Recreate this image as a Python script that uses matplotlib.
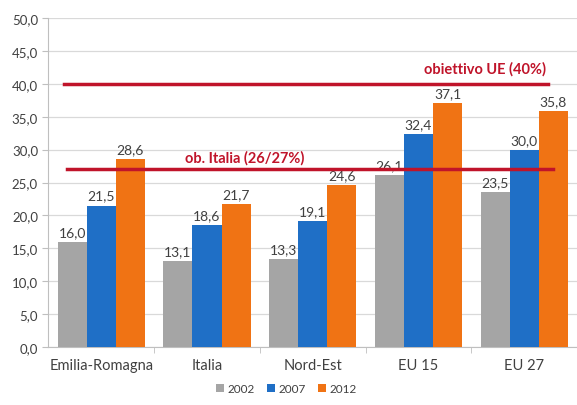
import numpy as np
from matplotlib import pyplot as plt

categories = ["Emilia-Romagna", "Italia", "Nord-Est", "EU 15", "EU 27"]
years = ["2002", "2007", "2012"]
values_2002 = [16.0, 13.1, 13.3, 26.1, 23.5]
values_2007 = [21.5, 18.6, 19.1, 32.4, 30.0]
values_2012 = [28.6, 21.7, 24.6, 37.1, 35.8]
target_eu = 40.0
target_italia = 27.0
target_eu_label = "obiettivo UE (40%)"
target_italia_label = "ob. Italia (26/27%)"

colors = ["#A5A5A5", "#1F6FC6", "#F07314"]
red = "#C0142A"
text_grey = "#404040"

plt.rcParams["font.family"] = ["Lato", "DejaVu Sans"]

fig = plt.figure(figsize=(5.77, 4.06), dpi=100)
ax = fig.add_axes([0.084, 0.143, 0.916, 0.81])

x = np.arange(len(categories))
width = 0.275
series = [values_2002, values_2007, values_2012]

for i, (vals, col, yr) in enumerate(zip(series, colors, years)):
    pos = x + (i - 1) * width
    ax.bar(pos, vals, width, color=col, label=yr, zorder=3)
    for px, v in zip(pos, vals):
        ax.text(px, v + 0.6, f"{v:.1f}".replace(".", ","), ha="center",
                va="bottom", fontsize=10, color=text_grey, zorder=2)

# target lines
ax.plot([-0.35, 4.23], [target_eu, target_eu], color=red, lw=2.5, zorder=4)
ax.plot([-0.32, 4.27], [target_italia, target_italia], color=red, lw=2.5, zorder=4)
ax.text(4.21, target_eu + 1.2, target_eu_label, ha="right", va="bottom",
        fontsize=10.5, fontweight="bold", color=red, zorder=5)
ax.text(0.79, target_italia + 0.8, target_italia_label, ha="left", va="bottom",
        fontsize=10.5, fontweight="bold", color=red, zorder=5)

ax.set_ylim(0, 50)
ax.set_xlim(-0.5, 4.5)
ax.set_yticks(np.arange(0, 51, 5))
ax.set_yticklabels([f"{t:.1f}".replace(".", ",") for t in np.arange(0, 51, 5)])
ax.set_xticks(x)
ax.set_xticklabels(categories)
ax.set_xticks(np.arange(0.5, 4.5, 1), minor=True)
ax.tick_params(axis="x", which="major", length=0, labelsize=10.5,
               labelcolor=text_grey, pad=8)
ax.tick_params(axis="x", which="minor", length=4, color="#BFBFBF")
ax.tick_params(axis="y", length=4, color="#BFBFBF", labelsize=9.5,
               labelcolor=text_grey)
ax.yaxis.grid(True, color="#D9D9D9", lw=0.9, zorder=0)
ax.set_axisbelow(True)
for side in ["top", "right"]:
    ax.spines[side].set_visible(False)
for side in ["left", "bottom"]:
    ax.spines[side].set_color("#BFBFBF")

ax.legend(loc="lower center", bbox_to_anchor=(0.45, -0.175), ncol=3,
          frameon=False, fontsize=8.5, handlelength=0.7, handleheight=0.7,
          handletextpad=0.3, columnspacing=1.0, labelcolor=text_grey)

fig.savefig("out.png", dpi=100)
